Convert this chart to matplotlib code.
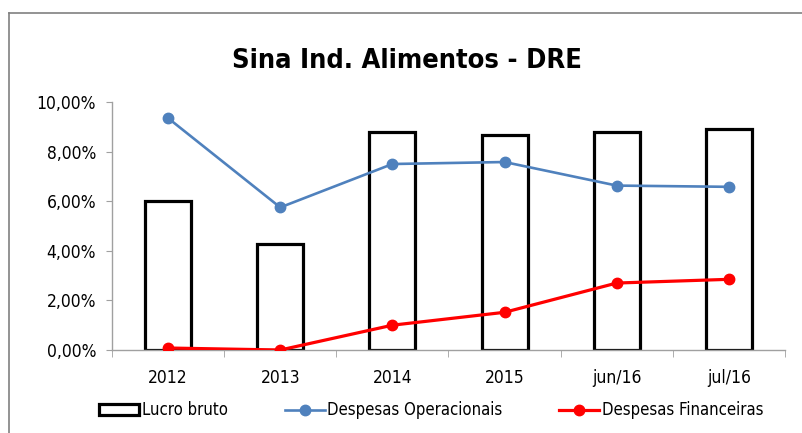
import numpy as np
import matplotlib.pyplot as plt
from matplotlib.lines import Line2D
from matplotlib.ticker import FuncFormatter

plt.rcParams['font.family'] = ['DejaVu Sans']
plt.rcParams['font.stretch'] = 'condensed'

# dados (%)
categorias = ["2012", "2013", "2014", "2015", "jun/16", "jul/16"]
lucro_bruto = [6.02, 4.28, 8.78, 8.65, 8.78, 8.92]
desp_operacionais = [9.35, 5.75, 7.50, 7.58, 6.63, 6.58]
desp_financeiras = [0.08, 0.00, 1.00, 1.52, 2.70, 2.85]

fig = plt.figure(figsize=(8.03, 4.33), dpi=100)
ax = fig.add_axes([0.1395, 0.1917, 0.838, 0.5727])

x = np.arange(len(categorias))
barras = ax.bar(x, lucro_bruto, width=0.41, facecolor='white', edgecolor='black',
                linewidth=2.3, label='Lucro bruto', zorder=2)
l1, = ax.plot(x, desp_operacionais, color='#4F81BD', lw=1.9, marker='o', ms=7.5,
              label='Despesas Operacionais', zorder=3)
l2, = ax.plot(x, desp_financeiras, color='#FF0000', lw=2.3, marker='o', ms=7.5,
              label='Despesas Financeiras', zorder=3)

ax.set_xlim(-0.5, len(categorias) - 0.5)
ax.set_ylim(0, 10)
ax.set_yticks(np.arange(0, 10.1, 2))
ax.yaxis.set_major_formatter(FuncFormatter(lambda v, p: f"{v:.2f}%".replace('.', ',')))
ax.set_xticks(x)
ax.set_xticklabels(categorias)
ax.set_xticks(np.arange(-0.5, len(categorias), 1), minor=True)

for s in ['top', 'right']:
    ax.spines[s].set_visible(False)
for s in ['left', 'bottom']:
    ax.spines[s].set_color('#A0A0A0')
    ax.spines[s].set_linewidth(1)
ax.tick_params(axis='y', length=4.5, color='#A0A0A0', labelsize=12.5, pad=7)
ax.tick_params(axis='x', which='major', length=0, labelsize=12.5, pad=14)
ax.tick_params(axis='x', which='minor', length=5, color='#A0A0A0')

fig.suptitle("Sina Ind. Alimentos - DRE", fontsize=19.5, fontweight='bold', x=0.507, y=0.89)

leg = fig.legend([barras, l1, l2], ['Lucro bruto', 'Despesas Operacionais', 'Despesas Financeiras'],
                 loc='center', bbox_to_anchor=(0.537, 0.052), ncol=3, frameon=False,
                 fontsize=12, handlelength=2.4, columnspacing=3.4, handletextpad=0.15)

# borda do quadro
fig.add_artist(Line2D([9 / 803, 9 / 803], [0, 1 - 13 / 433], color='#808080', lw=1.2))
fig.add_artist(Line2D([9 / 803, 1], [1 - 13 / 433, 1 - 13 / 433], color='#808080', lw=1.2))

fig.savefig('out.png', dpi=100)
